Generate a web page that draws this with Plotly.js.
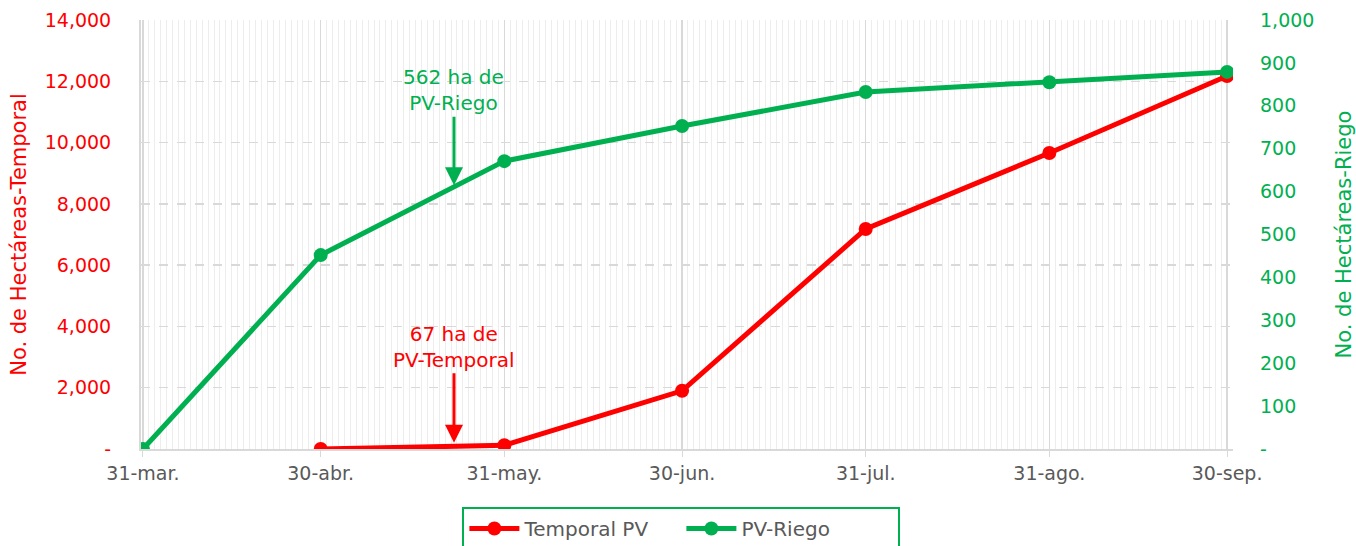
<!DOCTYPE html>
<html>
<head>
<meta charset="utf-8">
<script src="https://cdn.plot.ly/plotly-3.0.1.min.js"></script>
<style>html,body{margin:0;padding:0;background:#fff;}#chart{width:1356px;height:546px;}</style>
</head>
<body>
<div id="chart"></div>
<script>
const temporalDates = ['2023-04-30', '2023-05-31', '2023-06-30', '2023-07-31', '2023-08-31', '2023-09-30'];
const temporalValues = [0, 120, 1900, 7180, 9660, 12170];
const riegoDates = ['2023-03-31', '2023-04-30', '2023-05-31', '2023-06-30', '2023-07-31', '2023-08-31', '2023-09-30'];
const riegoValues = [0, 452, 671, 753, 832, 855, 879];
const xTickVals = ['2023-03-31', '2023-04-30', '2023-05-31', '2023-06-30', '2023-07-31', '2023-08-31', '2023-09-30'];
const xTickText = ['31-mar.', '30-abr.', '31-may.', '30-jun.', '31-jul.', '31-ago.', '30-sep.'];
const leftTickVals = [0, 2000, 4000, 6000, 8000, 10000, 12000, 14000];
const leftTickText = ['-', '2,000', '4,000', '6,000', '8,000', '10,000', '12,000', '14,000'];
const rightTickVals = [0, 100, 200, 300, 400, 500, 600, 700, 800, 900, 1000];
const rightTickText = ['-', '100', '200', '300', '400', '500', '600', '700', '800', '900', '1,000'];

const RED = '#FF0000', GREEN = '#00B050', GRAY = '#595959';
const FONT = 'DejaVu Sans, sans-serif';
const FS = 19;
const FT = 21;

const traces = [
  {x: temporalDates, y: temporalValues, name: 'Temporal PV', type: 'scatter', mode: 'lines+markers',
   line: {color: RED, width: 5}, marker: {color: RED, size: 14}, yaxis: 'y'},
  {x: riegoDates, y: riegoValues, name: 'PV-Riego', type: 'scatter', mode: 'lines+markers',
   line: {color: GREEN, width: 5}, marker: {color: GREEN, size: 14}, yaxis: 'y2'}
];

const layout = {
  width: 1356, height: 546,
  margin: {l: 141, r: 123, t: 20, b: 97},
  paper_bgcolor: '#fff', plot_bgcolor: '#fff',
  font: {family: FONT, size: FS, color: GRAY},
  showlegend: true,
  legend: {orientation: 'h', xref: 'container', yref: 'container', x: 0.5025, xanchor: 'center',
           y: 0.0714, yanchor: 'top',
           bordercolor: GREEN, borderwidth: 2, font: {family: FONT, size: 20, color: GRAY},
           entrywidth: 152, entrywidthmode: 'pixels', itemwidth: 50},
  xaxis: {
    type: 'date', range: ['2023-03-30 16:00', '2023-10-01 00:00'],
    tickmode: 'array', tickvals: xTickVals, ticktext: xTickText,
    showgrid: true, gridcolor: '#D9D9D9', gridwidth: 1.5,
    minor: {dtick: 86400000, showgrid: true, gridcolor: '#EDEDED', gridwidth: 1},
    showline: true, linecolor: '#D9D9D9', linewidth: 2,
    ticks: 'outside', ticklen: 6, tickcolor: '#D9D9D9',
    tickfont: {family: FONT, size: FS, color: GRAY}, zeroline: false
  },
  yaxis: {
    range: [0, 14000], tickmode: 'array', tickvals: leftTickVals, ticktext: leftTickText,
    showgrid: true, gridcolor: '#D9D9D9', griddash: 'dash', gridwidth: 1.5,
    showline: true, linecolor: '#D9D9D9', linewidth: 2, zeroline: false,
    ticks: '', ticklabelstandoff: 24,
    tickfont: {family: FONT, size: FS, color: RED},
    title: {text: 'No. de Hectáreas-Temporal', font: {family: FONT, size: FT, color: RED}, standoff: 12}
  },
  yaxis2: {
    range: [0, 1000], overlaying: 'y', side: 'right', tickmode: 'array',
    tickvals: rightTickVals, ticktext: rightTickText, showgrid: false, zeroline: false,
    showline: false, ticks: '', ticklabelstandoff: 26,
    tickfont: {family: FONT, size: FS, color: GREEN},
    title: {text: 'No. de Hectáreas-Riego', font: {family: FONT, size: FT, color: GREEN}, standoff: 30}
  },
  annotations: [
    {x: '2023-05-22 12:00', y: 615, xref: 'x', yref: 'y2', text: '562 ha de<br>PV-Riego',
     showarrow: true, ax: 0, ay: -95, arrowcolor: GREEN, arrowwidth: 3, arrowhead: 2, arrowsize: 1.2,
     font: {family: FONT, size: 20, color: GREEN}},
    {x: '2023-05-22 12:00', y: 200, xref: 'x', yref: 'y', text: '67 ha de<br>PV-Temporal',
     showarrow: true, ax: 0, ay: -96, arrowcolor: RED, arrowwidth: 3, arrowhead: 2, arrowsize: 1.2,
     font: {family: FONT, size: 20, color: RED}}
  ]
};

Plotly.newPlot('chart', traces, layout, {displayModeBar: false, staticPlot: true});
</script>
</body>
</html>
